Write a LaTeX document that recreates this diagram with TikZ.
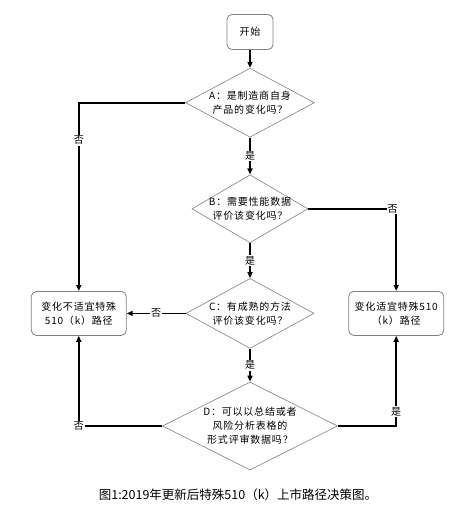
\documentclass[tikz,border=0pt]{standalone}
\usepackage{fontspec}
\usepackage{tikz}
\usetikzlibrary{arrows.meta,positioning,shapes.geometric}
\setmainfont{Noto Sans CJK SC}
\newfontfamily\cjkspaced[LetterSpace=8]{Noto Sans CJK SC}
\definecolor{fcgrey}{HTML}{808080}

\begin{document}
\begin{tikzpicture}[x=1pt,y=-1pt,font=\cjkspaced\fontsize{10}{14}\selectfont,
  box/.style={draw=fcgrey,fill=white,rounded corners=5pt,minimum height=44pt,minimum width=95pt,align=center,line width=0.8pt},
  decision/.style={diamond,draw=fcgrey,fill=white,line width=0.6pt,align=center,inner sep=0pt},
  arr/.style={-{Triangle[length=6pt,width=5pt]},line width=1.6pt,color=black},
  lbl/.style={fill=white,inner sep=1pt}]
  \useasboundingbox (0,0) rectangle (475,530);
  \node[box,minimum width=46pt,minimum height=35pt] (start) at (250,32) {开始};
  \node[decision,minimum width=129pt,minimum height=69pt,aspect=1.87,below=18pt of start] (qa) {A：是制造商自身\\产品的变化吗？};
  \node[decision,minimum width=116pt,minimum height=68pt,aspect=1.7,inner sep=-3pt,below=37pt of qa] (qb) {B：需要性能数据\\评价该变化吗？};
  \node[decision,minimum width=128pt,minimum height=70pt,aspect=1.83,below=35pt of qb] (qc) {C：有成熟的方法\\评价该变化吗？};
  \node[decision,minimum width=175pt,minimum height=88pt,aspect=1.99,below=33pt of qc] (qd) {D：可以以总结或者\\风险分析表格的\\形式评审数据吗？};
  \node[box,left=59pt of qc] (notfit) {变化不适宜特殊\\510（k）路径};
  \node[box,right=34pt of qc] (fit) {变化适宜特殊510\\（k）路径};
  \node[font=\fontsize{12.5}{15}\selectfont] (caption) at (238,495) {图1:2019年更新后特殊510（k）上市路径决策图。};
  \draw[arr] (start) -- (qa);
  \draw[arr] (qa) -- (qb) node[midway,lbl]{是};
  \draw[arr] (qb) -- (qc) node[midway,lbl]{是};
  \draw[arr] (qc) -- (qd) node[midway,lbl]{是};
  \draw[arr] (qa.west) -| (notfit.north) node[pos=0.6,lbl]{否};
  \draw[arr] (qb.east) -| (fit.north) node[pos=0.48,lbl]{否};
  \draw[arr] (qc.west) -- (notfit.east) node[midway,lbl]{否};
  \draw[arr] (qd.west) -| (notfit.south) node[pos=0.5,lbl]{否};
  \draw[arr] (qd.east) -| (fit.south) node[pos=0.58,lbl]{是};
\end{tikzpicture}
\end{document}
